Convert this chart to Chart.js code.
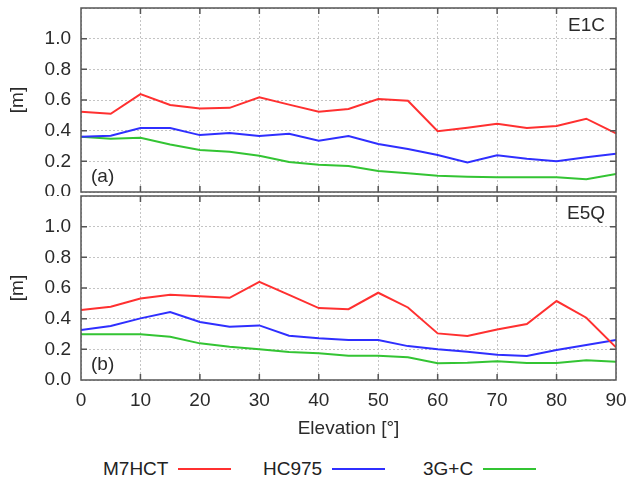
<!DOCTYPE html>
<html>
<head>
<meta charset="utf-8">
<script src="https://cdn.jsdelivr.net/npm/chart.js@4"></script>
<style>
  html, body { margin: 0; padding: 0; background: #fff; }
  body { width: 628px; height: 479px; position: relative; overflow: hidden;
         font-family: "Liberation Sans", Arial, sans-serif; }
  #panelA { position: absolute; left: 0; top: 0; }
  #panelB { position: absolute; left: 0; top: 190px; }
  #legend { position: absolute; left: 103px; top: 458px; display: flex;
            font-size: 19px; color: #222; line-height: 22px; }
  .item { width: 160px; display: flex; align-items: center; }
  .swatch { display: inline-block; width: 53px; height: 2px; margin-left: 10px; }
</style>
</head>
<body>
<canvas id="panelA" width="628" height="196"></canvas>
<canvas id="panelB" width="628" height="255"></canvas>
<div id="legend"></div>
<script>
// Elevation bins [deg]
const elevation = [0, 5, 10, 15, 20, 25, 30, 35, 40, 45, 50, 55, 60, 65, 70, 75, 80, 85, 90];

const seriesNames  = ['M7HCT', 'HC975', '3G+C'];
const seriesColors = ['#ff3030', '#2f2fff', '#33c433'];

// (a) E1C signal [m]
const e1cM7HCT = [0.523, 0.510, 0.638, 0.567, 0.545, 0.549, 0.617, 0.570, 0.523, 0.541, 0.606, 0.595, 0.397, 0.419, 0.445, 0.417, 0.430, 0.478, 0.382];
const e1cHC975 = [0.360, 0.367, 0.417, 0.417, 0.371, 0.384, 0.365, 0.380, 0.335, 0.365, 0.313, 0.280, 0.241, 0.193, 0.239, 0.217, 0.200, 0.226, 0.250];
const e1c3GC   = [0.360, 0.347, 0.354, 0.310, 0.274, 0.263, 0.237, 0.195, 0.178, 0.169, 0.137, 0.122, 0.106, 0.100, 0.096, 0.096, 0.096, 0.083, 0.117];

// (b) E5Q signal [m]
const e5qM7HCT = [0.456, 0.478, 0.532, 0.556, 0.547, 0.536, 0.640, 0.555, 0.469, 0.462, 0.569, 0.473, 0.304, 0.287, 0.330, 0.365, 0.515, 0.406, 0.213];
const e5qHC975 = [0.326, 0.352, 0.402, 0.443, 0.378, 0.347, 0.356, 0.289, 0.272, 0.261, 0.261, 0.221, 0.200, 0.184, 0.165, 0.156, 0.195, 0.228, 0.261];
const e5q3GC   = [0.298, 0.298, 0.298, 0.282, 0.239, 0.217, 0.200, 0.182, 0.175, 0.158, 0.158, 0.148, 0.109, 0.113, 0.122, 0.111, 0.111, 0.128, 0.119];

const FONT = '"Liberation Sans", Arial, sans-serif';
const INK = '#2a2a2a';

// Framed box with inward tick marks on all four sides plus panel captions
const framePlugin = {
  id: 'frame',
  afterDraw(chart, args, opts) {
    const { ctx, chartArea: a } = chart;
    const x = chart.scales.x, y = chart.scales.y;
    const len = 6;
    ctx.save();
    ctx.strokeStyle = '#555';
    ctx.lineWidth = 1.5;
    ctx.beginPath();
    x.ticks.forEach(t => {
      const px = x.getPixelForValue(t.value);
      if (px <= a.left + 1 || px >= a.right - 1) return;
      ctx.moveTo(px, a.bottom); ctx.lineTo(px, a.bottom - len);
      ctx.moveTo(px, a.top);    ctx.lineTo(px, a.top + len);
    });
    y.ticks.forEach(t => {
      const py = y.getPixelForValue(t.value);
      if (py <= a.top + 1 || py >= a.bottom - 1) return;
      ctx.moveTo(a.left, py);  ctx.lineTo(a.left + len, py);
      ctx.moveTo(a.right, py); ctx.lineTo(a.right - len, py);
    });
    ctx.stroke();
    ctx.strokeRect(a.left, a.top, a.right - a.left, a.bottom - a.top);

    ctx.fillStyle = INK;
    ctx.font = '19px ' + FONT;
    ctx.textBaseline = 'middle';
    ctx.textAlign = 'right';
    ctx.fillText(opts.code, a.right - 11, a.top + 18);
    ctx.textAlign = 'left';
    ctx.fillText(opts.tag, a.left + 10, a.bottom - 15);
    ctx.restore();
  }
};

function makeDatasets(values) {
  return values.map((vals, i) => ({
    label: seriesNames[i],
    data: elevation.map((e, k) => ({ x: e, y: vals[k] })),
    borderColor: seriesColors[i],
    backgroundColor: seriesColors[i],
    borderWidth: 2,
    pointRadius: 0,
    tension: 0,
    fill: false
  }));
}

function makePanel(canvasId, values, code, tag, showX, padTop) {
  return new Chart(document.getElementById(canvasId), {
    type: 'line',
    data: { datasets: makeDatasets(values) },
    options: {
      responsive: false,
      animation: false,
      events: [],
      layout: {
        autoPadding: false,
        padding: { top: padTop, right: 12, left: 0, bottom: showX ? 0 : 4 }
      },
      plugins: {
        legend: { display: false },
        tooltip: { enabled: false },
        frame: { code: code, tag: tag }
      },
      scales: {
        x: {
          type: 'linear',
          min: 0, max: 90,
          ticks: {
            display: showX,
            stepSize: 10,
            color: INK,
            padding: 9,
            font: { family: FONT, size: 19 },
            maxRotation: 0
          },
          grid: { color: '#c4c4c4', lineWidth: 1, drawTicks: false },
          border: { display: false, dash: [2, 2] },
          title: {
            display: showX,
            text: 'Elevation [°]',
            color: INK,
            font: { family: FONT, size: 19 },
            padding: { top: 0, bottom: 5 }
          },
          afterFit(scale) {
            scale.height = showX ? 65 : 0;
            scale.paddingLeft = 0;
            scale.paddingRight = 0;
          }
        },
        y: {
          min: 0, max: 1.2,
          ticks: {
            stepSize: 0.2,
            color: INK,
            padding: 10,
            font: { family: FONT, size: 19 },
            callback: v => (v > 1.05 ? '' : Number(v).toFixed(1))
          },
          grid: { color: '#c4c4c4', lineWidth: 1, drawTicks: false },
          border: { display: false, dash: [2, 2] },
          title: {
            display: true,
            text: '[m]',
            color: INK,
            font: { family: FONT, size: 19 },
            padding: { top: 6, bottom: 0 }
          },
          afterFit(scale) {
            scale.width = 81;
            scale.paddingTop = 0;
            scale.paddingBottom = 0;
          }
        }
      }
    },
    plugins: [framePlugin]
  });
}

makePanel('panelA', [e1cM7HCT, e1cHC975, e1c3GC], 'E1C', '(a)', false, 8);
makePanel('panelB', [e5qM7HCT, e5qHC975, e5q3GC], 'E5Q', '(b)', true, 6);

// Legend row: name followed by a line sample
const legend = document.getElementById('legend');
seriesNames.forEach((name, i) => {
  const item = document.createElement('div');
  item.className = 'item';
  const label = document.createElement('span');
  label.textContent = name;
  const swatch = document.createElement('span');
  swatch.className = 'swatch';
  swatch.style.background = seriesColors[i];
  item.appendChild(label);
  item.appendChild(swatch);
  legend.appendChild(item);
});
</script>
</body>
</html>
